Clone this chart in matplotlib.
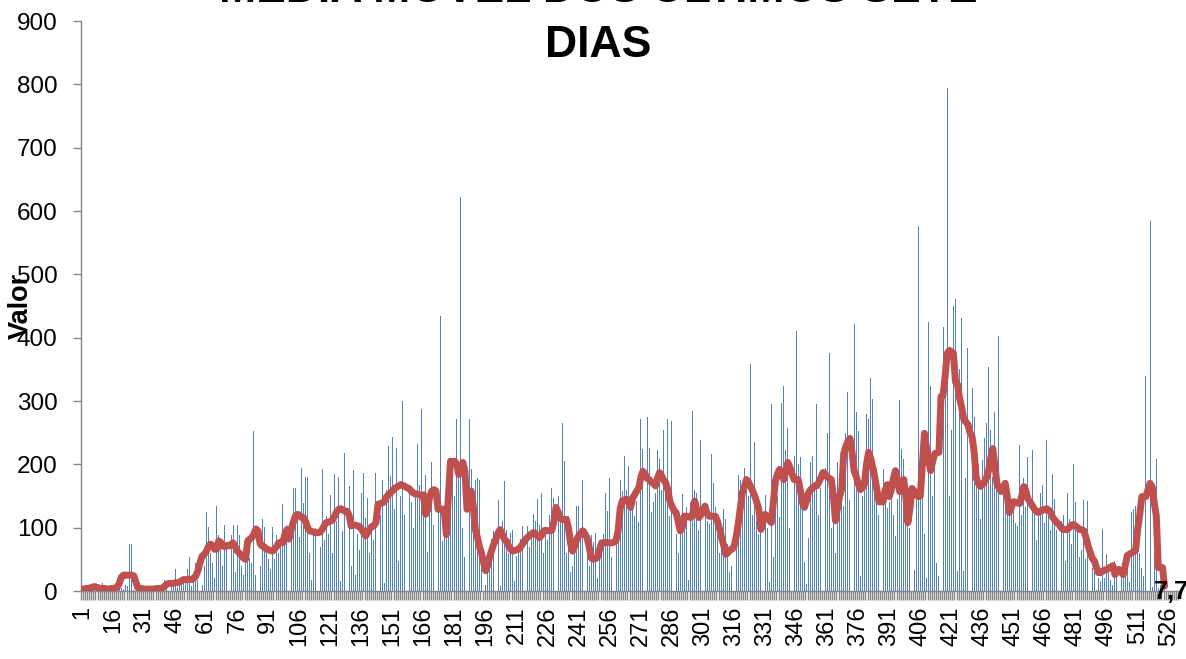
import numpy as np
import matplotlib
matplotlib.use('Agg')
import matplotlib.pyplot as plt

plt.rcParams['font.family'] = ['Liberation Sans', 'DejaVu Sans']

# categories (days) shown on the x axis
categories = list(range(1, 531))
tick_labels = [str(c) for c in categories[::15]]

# daily values (bars)
daily = [
    0, 2, 5, 3, 8, 4, 6, 10, 3, 2,
    12, 5, 1, 0, 3, 6, 4, 20, 8, 5,
    3, 10, 8, 75, 75, 2, 0, 1, 0, 4,
    0, 3, 2, 5, 1, 0, 4, 6, 3, 5,
    17, 8, 12, 9, 15, 34, 6, 10, 14, 18,
    12, 34, 53, 8, 20, 45, 18, 30, 10, 40,
    125, 101, 60, 45, 21, 134, 89, 68, 40, 105,
    74, 52, 89, 105, 30, 105, 89, 40, 25, 84,
    66, 52, 45, 253, 26, 61, 40, 113, 101, 60,
    50, 35, 101, 50, 89, 60, 79, 138, 75, 105,
    68, 90, 163, 163, 120, 85, 195, 139, 180, 180,
    60, 18, 95, 100, 103, 70, 192, 80, 118, 90,
    152, 60, 185, 110, 180, 16, 95, 218, 191, 166,
    40, 191, 26, 90, 64, 154, 187, 116, 147, 60,
    95, 80, 187, 221, 120, 175, 13, 160, 229, 182,
    243, 129, 226, 48, 150, 300, 120, 266, 168, 140,
    100, 150, 232, 168, 287, 126, 183, 61, 140, 203,
    105, 116, 150, 434, 79, 120, 89, 160, 137, 200,
    150, 271, 190, 622, 100, 53, 96, 271, 192, 132,
    176, 178, 175, 40, 0, 10, 30, 60, 82, 95,
    167, 143, 8, 110, 173, 97, 60, 92, 96, 16,
    55, 66, 82, 103, 103, 103, 70, 90, 121, 111,
    145, 104, 154, 60, 95, 80, 120, 162, 147, 84,
    150, 130, 266, 206, 60, 118, 30, 40, 70, 134,
    134, 100, 175, 162, 60, 40, 89, 78, 92, 20,
    60, 75, 90, 154, 127, 178, 53, 60, 75, 80,
    175, 158, 213, 159, 197, 129, 140, 118, 142, 109,
    271, 225, 247, 274, 226, 125, 140, 154, 222, 208,
    160, 255, 171, 271, 118, 269, 108, 90, 60, 95,
    153, 120, 133, 18, 140, 285, 160, 155, 96, 239,
    108, 130, 111, 106, 217, 171, 133, 88, 60, 83,
    129, 113, 74, 30, 40, 60, 120, 183, 176, 150,
    194, 170, 150, 358, 120, 236, 110, 90, 97, 130,
    152, 100, 15, 296, 53, 161, 150, 117, 297, 324,
    222, 257, 100, 150, 213, 411, 200, 211, 166, 46,
    11, 84, 203, 213, 161, 295, 120, 162, 140, 195,
    249, 376, 100, 140, 60, 203, 135, 203, 134, 250,
    314, 143, 260, 421, 283, 252, 23, 150, 200, 279,
    271, 337, 303, 160, 195, 120, 112, 192, 154, 131,
    140, 180, 120, 87, 146, 301, 225, 209, 120, 149,
    100, 247, 33, 150, 576, 200, 149, 90, 20, 425,
    323, 150, 198, 44, 23, 200, 417, 307, 795, 150,
    255, 450, 461, 32, 350, 431, 32, 179, 383, 127,
    321, 274, 176, 200, 114, 207, 241, 266, 353, 255,
    180, 283, 160, 402, 240, 174, 150, 143, 120, 146,
    130, 108, 102, 230, 120, 179, 132, 211, 150, 222,
    124, 81, 130, 154, 168, 108, 239, 120, 97, 184,
    146, 97, 170, 110, 120, 48, 154, 113, 75, 200,
    141, 100, 53, 64, 143, 51, 142, 60, 36, 40,
    2, 20, 16, 98, 21, 59, 30, 18, 10, 48,
    40, 127, 30, 26, 50, 60, 15, 124, 130, 135,
    81, 60, 36, 23, 339, 40, 584, 7, 60, 209,
    4, 10, 21, 15,
]

# seven-day moving average (red line)
moving_avg = [
    3, 3, 4, 4, 5, 6, 7, 6, 5, 4,
    4, 4, 3, 3, 4, 4, 5, 6, 12, 22,
    25, 25, 25, 25, 25, 24, 14, 5, 4, 4,
    3, 3, 3, 3, 3, 3, 4, 4, 4, 5,
    8, 11, 12, 12, 12, 13, 13, 14, 16, 18,
    18, 18, 19, 18, 20, 24, 32, 45, 55, 58,
    62, 70, 74, 72, 66, 66, 79, 77, 71, 70,
    72, 71, 74, 76, 70, 63, 60, 56, 52, 50,
    78, 82, 84, 90, 98, 95, 75, 71, 70, 66,
    65, 64, 63, 66, 70, 76, 77, 76, 90, 97,
    82, 96, 108, 118, 121, 120, 116, 116, 110, 100,
    95, 94, 93, 92, 92, 93, 97, 103, 108, 109,
    110, 112, 118, 125, 129, 130, 128, 126, 126, 120,
    103, 104, 104, 103, 102, 98, 92, 87, 92, 98,
    102, 103, 108, 137, 138, 139, 141, 148, 152, 155,
    158, 162, 164, 166, 168, 167, 165, 163, 162, 158,
    155, 153, 153, 152, 150, 152, 121, 128, 150, 158,
    160, 158, 129, 130, 129, 129, 89, 150, 205, 203,
    205, 200, 184, 195, 203, 189, 129, 140, 158, 135,
    97, 85, 70, 60, 45, 32, 40, 55, 65, 75,
    82, 92, 97, 90, 82, 79, 72, 66, 63, 64,
    65, 66, 70, 75, 80, 84, 87, 90, 92, 91,
    87, 84, 88, 95, 96, 95, 95, 96, 110, 132,
    125, 115, 113, 113, 113, 100, 75, 63, 70, 82,
    87, 92, 95, 90, 84, 70, 52, 50, 51, 53,
    65, 76, 76, 77, 76, 76, 76, 77, 80, 95,
    130, 142, 144, 145, 140, 132, 147, 152, 158, 163,
    180, 189, 185, 178, 176, 172, 170, 166, 178, 187,
    182, 175, 171, 160, 142, 134, 127, 124, 110, 95,
    100, 118, 118, 117, 116, 120, 142, 128, 116, 120,
    128, 134, 122, 118, 118, 118, 118, 110, 98, 84,
    72, 58, 60, 65, 66, 70, 85, 105, 130, 155,
    165, 176, 172, 165, 158, 150, 140, 129, 97, 110,
    121, 118, 112, 108, 140, 174, 185, 192, 185, 176,
    190, 203, 195, 185, 176, 176, 176, 160, 140, 132,
    142, 155, 160, 163, 166, 166, 172, 179, 187, 185,
    180, 178, 176, 150, 111, 130, 150, 160, 217, 228,
    236, 241, 220, 190, 181, 170, 160, 163, 168, 200,
    219, 210, 195, 180, 160, 141, 141, 141, 160, 168,
    149, 160, 178, 190, 175, 157, 167, 176, 150, 108,
    130, 162, 158, 152, 149, 150, 200, 249, 225, 206,
    190, 205, 217, 218, 219, 307, 309, 340, 375, 380,
    378, 375, 330, 326, 304, 290, 271, 267, 263, 250,
    244, 220, 179, 170, 165, 168, 172, 179, 190, 210,
    225, 200, 170, 163, 157, 162, 170, 150, 124, 132,
    141, 140, 139, 138, 150, 165, 158, 145, 141, 135,
    130, 126, 124, 126, 128, 128, 130, 128, 124, 116,
    112, 108, 105, 100, 97, 97, 97, 100, 104, 105,
    103, 100, 97, 97, 95, 85, 72, 62, 52, 48,
    38, 29, 29, 31, 33, 34, 36, 38, 40, 26,
    30, 34, 30, 26, 40, 56, 58, 60, 62, 64,
    97, 120, 149, 149, 149, 160, 170, 165, 140, 119,
    37, 37, 37, 7.7,
]

title = 'MÉDIA MÓVEL DOS ÚLTIMOS SETE\nDIAS'
last_label = '7,7'

fig = plt.figure(figsize=(11.86, 6.59), dpi=100)
ax = fig.add_axes([81 / 1186, 1 - 591 / 659, 1097 / 1186, 570 / 659])

x_bars = categories[:len(daily)]
x_line = categories[:len(moving_avg)]
ax.bar(x_bars, daily, width=0.45, color='#4F81BD', linewidth=0, zorder=2)
ax.plot(x_line, moving_avg, color='#C0504D', lw=5, solid_joinstyle='round',
        solid_capstyle='round', zorder=3)

ax.annotate(last_label, (x_line[-1], moving_avg[-1]), xytext=(5, -4),
            textcoords='offset points', ha='center', va='center',
            fontsize=18, fontweight='bold', annotation_clip=False, zorder=4)

ax.set_xlim(0.5, len(categories) + 0.5)
ax.set_ylim(0, 900)
ax.set_yticks(range(0, 901, 100))
ax.set_xticks(categories[::15])
ax.set_xticklabels(tick_labels, rotation=90)
ax.set_xticks(np.arange(0.5, len(categories) + 1, 1), minor=True)

gray = '#868686'
ax.tick_params(axis='x', which='major', length=0, pad=11, labelsize=17)
ax.tick_params(axis='x', which='minor', length=6.5, width=1.0, color=gray)
ax.tick_params(axis='y', length=5.8, width=1.0, color=gray, pad=11, labelsize=17.5)

for side in ['top', 'right']:
    ax.spines[side].set_visible(False)
for side in ['left', 'bottom']:
    ax.spines[side].set_color(gray)
    ax.spines[side].set_linewidth(1.0)

ax.set_ylabel('Valor', fontsize=19.5, fontweight='bold')
ax.yaxis.set_label_coords(-0.043, 0.5)

fig.text(598 / 1186, 1 - 57 / 659, title, ha='center', va='baseline',
         fontsize=32, fontweight='bold', linespacing=1.45, multialignment='center')

fig.savefig('out.png', dpi=100)
